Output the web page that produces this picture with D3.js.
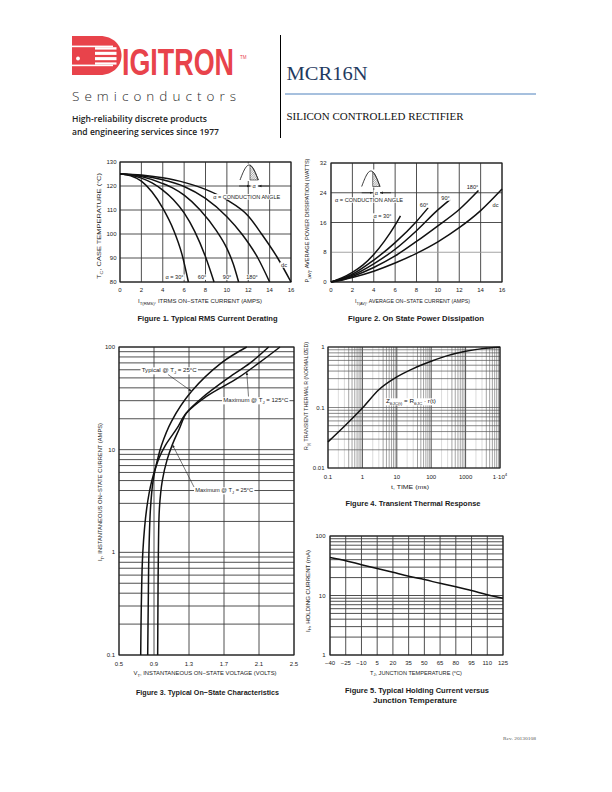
<!DOCTYPE html>
<html><head><meta charset="utf-8">
<script src="https://cdn.jsdelivr.net/npm/d3@7"></script>
<style>body{margin:0;background:#fff}svg{display:block}</style>
</head><body>
<svg id="c" width="612" height="792"></svg>
<script>
// ---------------- DATA ----------------
// Figure 1: case temperature vs RMS current
const fig1XTicks = [0,2,4,6,8,10,12,14,16];
const fig1YTicks = [80,90,100,110,120,130];
const fig1Labels = ["α = 30°","60°","90°","180°","dc"];
const fig1_30  = [[0,125],[1,124.3],[2,122],[3,117.5],[4,110.8],[5,101.8],[5.8,91.5],[6.4,80]];
const fig1_60  = [[0,125],[1,124.6],[2,123.3],[3,121.3],[4,118.3],[5,114.3],[6,108.8],[7,101],[8,90.5],[8.8,80]];
const fig1_90  = [[0,125],[2,123.9],[4,121],[5,119],[6,116.2],[7.5,110],[9,101.5],[10,94],[10.6,87.5],[11.1,80]];
const fig1_180 = [[0,125],[2,124.3],[4,122.6],[6,119.8],[8,114.8],[10,107.2],[11.4,100],[12.9,90],[14,80]];
const fig1_dc  = [[0,125],[2,124.6],[4,123.4],[6,121.5],[8,118.6],[10,114.2],[12,107.5],[13.25,100],[14.75,90],[16,80]];

// Figure 2: average power dissipation vs average current
const fig2XTicks = [0,2,4,6,8,10,12,14,16];
const fig2YTicks = [0,8,16,24,32];
const fig2Labels = ["α = 30°","60°","90°","180°","dc"];
const fig2_30  = [[0,0],[1,1.1],[2,2.6],[3,4.6],[4,7.4],[5,11],[6,15.3],[6.5,17.8]];
const fig2_60  = [[0,0],[1,0.9],[2,2.1],[4,5.9],[6,10.6],[8,16.3],[9.1,20]];
const fig2_90  = [[0,0],[1,0.8],[2,1.8],[4,4.9],[6,8.8],[8,13.8],[10,19.4],[11.2,22.3]];
const fig2_180 = [[0,0],[1,0.6],[2,1.5],[4,3.9],[6,7],[8,10.9],[10,15.1],[12,19.5],[13.8,24.6]];
const fig2_dc  = [[0,0],[1,0.5],[2,1.2],[4,2.9],[6,5.1],[8,7.7],[10,10.8],[12,14.6],[14,19.2],[16,25]];

// Figure 3: on-state characteristics (volts, amps)
const fig3XTicks = [0.5,0.9,1.3,1.7,2.1,2.5];
const fig3YTicks = [0.1,1,10,100];
const fig3Typical25 = [[0.828,0.1],[0.834,0.3],[0.842,1],[0.86,2.7],[0.89,5],[0.94,8],[0.985,11],[1.1,18.9],[1.33,37],[1.67,70],[1.96,100]];
const fig3Max125    = [[0.748,0.1],[0.755,0.3],[0.772,1],[0.817,2.7],[0.875,5],[0.95,8],[1.03,11],[1.16,16],[1.27,22.7],[1.5,33],[1.86,50],[2.1,70],[2.34,100]];
const fig3Max25     = [[0.942,0.1],[0.945,0.3],[0.95,1],[0.962,2.7],[0.995,5],[1.05,8],[1.11,11.2],[1.19,16],[1.27,22.7],[1.45,32],[1.75,50],[2.0,70],[2.21,100]];

// Figure 4: transient thermal response (ms, normalized r)
const fig4XTicks = [0.1,1,10,100,1000,10000];
const fig4XLabels = [["0.1"],["1"],["10"],["100"],["1000"],["1·10","4"]];
const fig4YTicks = [0.01,0.1,1];
const fig4Curve = [[0.1,0.027],[0.3,0.049],[1,0.098],[3,0.197],[10,0.32],[30,0.44],[100,0.58],[300,0.72],[1000,0.85],[3000,0.94],[10000,0.99]];

// Figure 5: holding current vs junction temperature
const fig5XTicks = [-40,-25,-10,5,20,35,50,65,80,95,110,125];
const fig5YTicks = [1,10,100];
const fig5Temp = [-40,-25,-10,5,20,35,50,65,80,95,110,125];
const fig5IH   = [43.5,38.5,33,28.5,24.5,21,18.5,16,14,12.1,10.3,9.0];

// ---------------- DRAWING ----------------
const svg = d3.select("#c");
const SANS = "'Liberation Sans', Arial, Helvetica, sans-serif";
const SERIF = "'Liberation Serif', 'Times New Roman', serif";
const GRID = "#3c3c3c";
const INK = "#111";

const defs = svg.append("defs");
defs.append("pattern").attr("id","hatch").attr("patternUnits","userSpaceOnUse")
  .attr("width",1.6).attr("height",1.6).attr("patternTransform","rotate(45)")
  .append("line").attr("x1",0).attr("y1",0).attr("x2",0).attr("y2",1.6)
  .attr("stroke","#333").attr("stroke-width",0.7);
defs.append("marker").attr("id","ah").attr("viewBox","0 0 10 10").attr("refX",10).attr("refY",5)
  .attr("markerWidth",3.2).attr("markerHeight",3.2).attr("markerUnits","userSpaceOnUse").attr("orient","auto")
  .append("path").attr("d","M0,1 L10,5 L0,9 Z").attr("fill","#222");

function txt(g, x, y, parts, o = {}) {
  const size = o.size || 5.5;
  const t = g.append("text").attr("x", x).attr("y", y)
    .attr("font-family", o.family || SANS).attr("font-size", size)
    .attr("text-anchor", o.anchor || "middle").attr("fill", o.fill || "#1a1a1a");
  if (o.weight) t.attr("font-weight", o.weight);
  if (o.rotate) t.attr("transform", `rotate(-90 ${x} ${y})`);
  if (o.len) t.attr("textLength", o.len).attr("lengthAdjust", o.adjust || "spacingAndGlyphs");
  if (typeof parts === "string") parts = [[parts]];
  let cur = 0;
  parts.forEach(([s, kind]) => {
    const sp = t.append("tspan").text(s);
    let target = 0;
    if (kind === "sub") { target = size * 0.3; sp.attr("font-size", size * 0.72); }
    if (kind === "sup") { target = -size * 0.42; sp.attr("font-size", size * 0.72); }
    if (target !== cur) { sp.attr("dy", target - cur); cur = target; }
  });
  return t;
}
function bgTxt(g, x, y, parts, o = {}) {
  const t = txt(g, x, y, parts, o);
  const b = t.node().getBBox();
  g.insert("rect", () => t.node()).attr("x", b.x - 1.2).attr("y", b.y + 0.3)
    .attr("width", b.width + 2.4).attr("height", b.height - 0.6).attr("fill", "#fff");
  return t;
}
function vlines(g, xs, vals, y0, y1, color, w) {
  g.append("g").selectAll("line").data(vals).join("line")
    .attr("x1", d => xs(d)).attr("x2", d => xs(d)).attr("y1", y0).attr("y2", y1)
    .attr("stroke", color).attr("stroke-width", w);
}
function hlines(g, ys, vals, x0, x1, color, w) {
  g.append("g").selectAll("line").data(vals).join("line")
    .attr("y1", d => ys(d)).attr("y2", d => ys(d)).attr("x1", x0).attr("x2", x1)
    .attr("stroke", color).attr("stroke-width", w);
}
function frame(g, x0, y0, x1, y1) {
  g.append("rect").attr("x", x0).attr("y", y0).attr("width", x1 - x0).attr("height", y1 - y0)
    .attr("fill", "none").attr("stroke", "#222").attr("stroke-width", 1.1);
}
function curve(g, data, xs, ys, cv) {
  g.append("path").datum(data).attr("fill", "none").attr("stroke", INK).attr("stroke-width", 1.5)
    .attr("stroke-linejoin", "round")
    .attr("d", d3.line().x(d => xs(d[0])).y(d => ys(d[1])).curve(cv || d3.curveMonotoneX));
}
function icon(g, x0, w, base, h, xc, arrowY) {
  const N = 30;
  const pts = d3.range(N + 1).map(i => [x0 + w * i / N, base - h * Math.sin(Math.PI * i / N)]);
  g.append("rect").attr("x", x0 - 2).attr("y", base - h - 1.5).attr("width", w + 4).attr("height", h + 2.5).attr("fill", "#fff");
  const yc = base - h * Math.sin(Math.PI * (xc - x0) / w);
  const poly = [[xc, base], [xc, yc]].concat(pts.filter(p => p[0] > xc)).concat([[x0 + w, base]]);
  g.append("path").attr("d", d3.line()(poly) + "Z").attr("fill", "url(#hatch)").attr("stroke", "#222").attr("stroke-width", 0.6);
  g.append("path").attr("d", d3.line()(pts)).attr("fill", "none").attr("stroke", "#222").attr("stroke-width", 0.9);
  const xe = x0 + w;
  bgTxt(g, (xc + xe) / 2, arrowY + 2, "α", { size: 5.5 });
  g.append("line").attr("x1", xc - 11).attr("x2", xc).attr("y1", arrowY).attr("y2", arrowY)
    .attr("stroke", "#222").attr("stroke-width", 0.8).attr("marker-end", "url(#ah)");
  g.append("line").attr("x1", xe + 11).attr("x2", xe).attr("y1", arrowY).attr("y2", arrowY)
    .attr("stroke", "#222").attr("stroke-width", 0.8).attr("marker-end", "url(#ah)");
}

// ---------------- HEADER ----------------
const hd = svg.append("g");
const RED = "#e8434b";
hd.append("path").attr("d", "M72,36 H100 C113,36 121.5,45 121.5,55.5 C121.5,66 113,75 100,75 H72 Z").attr("fill", RED);
hd.append("rect").attr("x", 72).attr("y", 45.6).attr("width", 41).attr("height", 1.6).attr("fill", "#fff");
hd.append("rect").attr("x", 72).attr("y", 64.6).attr("width", 41).attr("height", 1.6).attr("fill", "#fff");
hd.append("rect").attr("x", 95).attr("y", 47.2).attr("width", 21.5).attr("height", 17.4).attr("fill", "#fff");
[49.6, 54.9, 60.2].forEach(y => hd.append("rect").attr("x", 95).attr("y", y).attr("width", 23).attr("height", 2.2).attr("fill", RED));
hd.append("circle").attr("cx", 78).attr("cy", 58.5).attr("r", 1.9).attr("fill", "#fff");
{
  const lg = hd.append("g");
  const t = lg.append("text").attr("x", 0).attr("y", 0).attr("font-family", SANS).attr("font-weight", "bold")
    .attr("font-size", 37.5).attr("fill", RED).text("IGITRON");
  const nat = t.node().getComputedTextLength();
  lg.attr("transform", `translate(122,75) scale(${112 / nat},1)`);
}
txt(hd, 240, 58.5, "TM", { size: 4.5, anchor: "start", fill: RED });
txt(hd, 72, 100.5, "Semiconductors", { size: 13.5, anchor: "start", fill: "#2a2a2a", len: 164, adjust: "spacing", weight: 300, family: "'Open Sans', Lato, sans-serif" });
txt(hd, 72, 122, "High-reliability discrete products", { size: 8, anchor: "start", fill: "#222", len: 135, weight: 600, family: "'Open Sans', sans-serif" });
txt(hd, 72, 134.5, "and engineering services since 1977", { size: 8, anchor: "start", fill: "#222", len: 147, weight: 600, family: "'Open Sans', sans-serif" });
hd.append("line").attr("x1", 280.5).attr("x2", 280.5).attr("y1", 35).attr("y2", 138).attr("stroke", "#000").attr("stroke-width", 1);
txt(hd, 286.5, 79.5, "MCR16N", { size: 19.5, anchor: "start", fill: "#1f3a60", len: 81, family: SERIF });
hd.append("line").attr("x1", 285).attr("x2", 536).attr("y1", 94).attr("y2", 94).attr("stroke", "#4f81bd").attr("stroke-width", 1);
txt(hd, 286.5, 119.5, "SILICON CONTROLLED RECTIFIER", { size: 10, anchor: "start", fill: "#111", len: 177, family: SERIF });

// ---------------- FIGURE 1 ----------------
{
  const g = svg.append("g");
  const x = d3.scaleLinear().domain([0, 16]).range([120, 291]);
  const y = d3.scaleLinear().domain([80, 130]).range([282, 162]);
  vlines(g, x, fig1XTicks, 162, 282, GRID, 0.9);
  hlines(g, y, fig1YTicks, 120, 291, GRID, 0.9);
  frame(g, 120, 162, 291, 282);
  [fig1_30, fig1_60, fig1_90, fig1_180, fig1_dc].forEach(s => curve(g, s, x, y));
  fig1XTicks.forEach(v => txt(g, x(v), 291.5, String(v), { size: 6 }));
  fig1YTicks.forEach(v => txt(g, 116.5, y(v) + 2.1, String(v), { size: 6, anchor: "end" }));
  icon(g, 240, 18.3, 180, 15, 250, y(120));
  bgTxt(g, 246.7, 198.8, "α = CONDUCTION ANGLE", { size: 5.6, len: 67 });
  const lp = [[174.5, 279.2], [202, 279.2], [227, 279.2], [252, 279.2], [284, 267]];
  fig1Labels.forEach((s, i) => bgTxt(g, lp[i][0], lp[i][1], s, { size: 5.6 }));
  txt(g, 200, 303, [["I"], ["T(RMS)", "sub"], [", ITRMS ON−STATE CURRENT (AMPS)"]], { size: 5.6, len: 124 });
  txt(g, 101, 226, [["T"], ["C", "sub"], [", CASE TEMPERATURE (°C)"]], { size: 5.6, rotate: true, len: 106 });
  txt(g, 207.5, 320.5, "Figure 1. Typical RMS Current Derating", { size: 7.8, weight: "bold", len: 140 });
}

// ---------------- FIGURE 2 ----------------
{
  const g = svg.append("g");
  const x = d3.scaleLinear().domain([0, 16]).range([331, 502]);
  const y = d3.scaleLinear().domain([0, 32]).range([282, 163]);
  vlines(g, x, fig2XTicks, 163, 282, GRID, 0.9);
  hlines(g, y, fig2YTicks.filter(v => v !== 8), 331, 502, GRID, 0.9);
  hlines(g, y, [8], 331, 502, "#9a9a9a", 0.9);
  frame(g, 331, 163, 502, 282);
  [fig2_30, fig2_60, fig2_90, fig2_180, fig2_dc].forEach(s => curve(g, s, x, y));
  fig2XTicks.forEach(v => txt(g, x(v), 291.5, String(v), { size: 6 }));
  fig2YTicks.forEach(v => txt(g, 326.5, y(v) + 2.1, String(v), { size: 6, anchor: "end" }));
  icon(g, 361.7, 18.3, 186.5, 15.5, 372.7, y(24));
  bgTxt(g, 369, 202, "α = CONDUCTION ANGLE", { size: 5.6, len: 68 });
  const lp = [[382.5, 218], [424, 207], [445.5, 200], [472.5, 189], [495.5, 207]];
  fig2Labels.forEach((s, i) => bgTxt(g, lp[i][0], lp[i][1], s, { size: 5.6 }));
  txt(g, 412.5, 303, [["I"], ["T(AV)", "sub"], [", AVERAGE ON−STATE CURRENT (AMPS)"]], { size: 5.6, len: 115 });
  txt(g, 309, 220.5, [["P"], ["(AV)", "sub"], [", AVERAGE POWER DISSIPATION (WATTS)"]], { size: 5.6, rotate: true, len: 124 });
  txt(g, 416, 320.5, "Figure 2. On State Power Dissipation", { size: 7.8, weight: "bold", len: 136 });
}

// ---------------- FIGURE 3 ----------------
{
  const g = svg.append("g");
  const x = d3.scaleLinear().domain([0.5, 2.5]).range([119, 294]);
  const y = d3.scaleLog().domain([0.1, 100]).range([655, 347]);
  vlines(g, x, fig3XTicks, 347, 655, GRID, 0.9);
  hlines(g, y, y.ticks(), 119, 294, GRID, 0.9);
  frame(g, 119, 347, 294, 655);
  const cv = d3.curveCatmullRom.alpha(0.5);
  [fig3Typical25, fig3Max125, fig3Max25].forEach(s => curve(g, s, x, y, cv));
  fig3XTicks.forEach(v => txt(g, x(v), 665.5, String(v), { size: 6 }));
  fig3YTicks.forEach(v => txt(g, 115, y(v) + 2.1, String(v), { size: 6, anchor: "end" }));
  const lead = (x0, y0, x1, y1) => g.append("line").attr("x1", x0).attr("y1", y0).attr("x2", x1).attr("y2", y1)
    .attr("stroke", "#222").attr("stroke-width", 0.6).attr("marker-end", "url(#ah)");
  bgTxt(g, 169.2, 372, [["Typical @ T"], ["J", "sub"], [" = 25°C"]], { size: 5.6, len: 55 });
  lead(168, 374.5, x(1.33), y(37));
  bgTxt(g, 255.8, 402, [["Maximum @ T"], ["J", "sub"], [" = 125°C"]], { size: 5.6, len: 65 });
  lead(248.5, 396.5, x(1.96), y(57));
  bgTxt(g, 224.2, 492, [["Maximum @ T"], ["J", "sub"], [" = 25°C"]], { size: 5.6, len: 58 });
  lead(194, 487, x(1.11), y(11.2));
  txt(g, 205, 675, [["V"], ["T", "sub"], [", INSTANTANEOUS ON−STATE VOLTAGE (VOLTS)"]], { size: 5.6, len: 143 });
  txt(g, 102, 492, [["I"], ["T", "sub"], [", INSTANTANEOUS ON−STATE CURRENT (AMPS)"]], { size: 5.6, rotate: true, len: 138 });
  txt(g, 207.5, 694.5, "Figure 3. Typical On−State Characteristics", { size: 7.8, weight: "bold", len: 143 });
}

// ---------------- FIGURE 4 ----------------
{
  const g = svg.append("g");
  const x = d3.scaleLog().domain([0.1, 10000]).range([328, 500]);
  const y = d3.scaleLog().domain([0.01, 1]).range([468, 347]);
  const xt = x.ticks();
  const mant = v => Math.round(v / Math.pow(10, Math.floor(Math.log10(v) + 1e-9)));
  g.append("g").selectAll("line").data(xt).join("line")
    .attr("x1", d => x(d)).attr("x2", d => x(d)).attr("y1", 347).attr("y2", 468)
    .attr("stroke", d => mant(d) === 1 ? GRID : ((mant(d) === 2 || mant(d) === 3) ? "#c4c4c4" : "#666"))
    .attr("stroke-width", d => mant(d) === 1 ? 0.9 : 0.6);
  hlines(g, y, y.ticks(), 328, 500, "#555", 0.7);
  frame(g, 328, 347, 500, 468);
  curve(g, fig4Curve, x, y);
  fig4XTicks.forEach((v, i) => {
    const lab = fig4XLabels[i];
    txt(g, x(v), 479, lab.length > 1 ? [[lab[0]], [lab[1], "sup"]] : lab[0], { size: 6 });
  });
  fig4YTicks.forEach(v => txt(g, 324.5, y(v) + 2.1, String(v), { size: 6, anchor: "end" }));
  bgTxt(g, 411, 403, [["Z"], ["θJC(t)", "sub"], [" = R"], ["θJC", "sub"], [" · r(t)"]], { size: 5.6, len: 50 });
  txt(g, 410, 488.5, "t, TIME (ms)", { size: 5.6, len: 38 });
  txt(g, 308, 396, [["R"], ["(t)", "sub"], [" TRANSIENT THERMAL R (NORMALIZED)"]], { size: 5.6, rotate: true, len: 108 });
  txt(g, 413, 505.5, "Figure 4. Transient Thermal Response", { size: 7.8, weight: "bold", len: 135 });
}

// ---------------- FIGURE 5 ----------------
{
  const g = svg.append("g");
  const x = d3.scaleLinear().domain([-40, 125]).range([330, 503]);
  const y = d3.scaleLog().domain([1, 100]).range([655, 536]);
  vlines(g, x, fig5XTicks, 536, 655, GRID, 0.9);
  hlines(g, y, y.ticks(), 330, 503, GRID, 0.9);
  frame(g, 330, 536, 503, 655);
  g.append("path").datum(d3.zip(fig5Temp, fig5IH)).attr("fill", "none").attr("stroke", INK).attr("stroke-width", 1.5)
    .attr("d", d3.line().x(d => x(d[0])).y(d => y(d[1])).curve(d3.curveMonotoneX));
  fig5XTicks.forEach(v => txt(g, x(v), 664.5, v < 0 ? "−" + Math.abs(v) : String(v), { size: 6 }));
  fig5YTicks.forEach(v => txt(g, 325.5, y(v) + 2.1, String(v), { size: 6, anchor: "end" }));
  txt(g, 416, 674.5, [["T"], ["J", "sub"], [", JUNCTION TEMPERATURE (°C)"]], { size: 5.6, len: 92 });
  txt(g, 309.5, 591, [["I"], ["H", "sub"], [", HOLDING CURRENT (mA)"]], { size: 5.6, rotate: true, len: 82 });
  txt(g, 417, 692.5, "Figure 5. Typical Holding Current versus", { size: 7.8, weight: "bold", len: 144 });
  txt(g, 415, 702.5, "Junction Temperature", { size: 7.8, weight: "bold", len: 84 });
}

// footer
txt(svg, 503, 739.5, "Rev. 20130108", { size: 5, anchor: "start", fill: "#555", family: SERIF, len: 33 });
</script>
</body></html>
